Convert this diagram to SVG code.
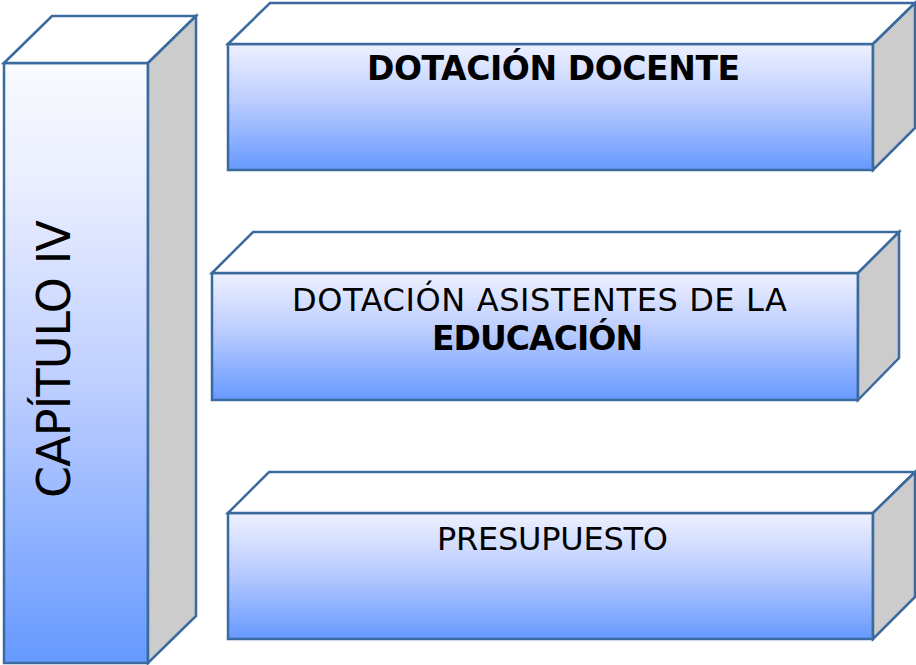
<svg xmlns="http://www.w3.org/2000/svg" width="916" height="665" viewBox="0 0 916 665">
<defs>
<linearGradient id="g" x1="0" y1="0" x2="0" y2="1">
<stop offset="0" stop-color="#eef1ff"/>
<stop offset="0.45" stop-color="#bccdff"/>
<stop offset="1" stop-color="#6699ff"/>
</linearGradient>
<linearGradient id="g2" x1="0" y1="0" x2="0" y2="1">
<stop offset="0" stop-color="#fafbff"/>
<stop offset="0.2" stop-color="#eaeeff"/>
<stop offset="0.55" stop-color="#bccdff"/>
<stop offset="1" stop-color="#6699ff"/>
</linearGradient>
<style>
.f{fill:url(#g);stroke:#3a6a9e;stroke-width:2.5;stroke-linejoin:miter}
.f2{fill:url(#g2);stroke:#3a6a9e;stroke-width:2.5}
.t{fill:#ffffff;stroke:#3a6a9e;stroke-width:2.5}
.s{fill:#cccccc;stroke:#3a6a9e;stroke-width:2.5}
text{font-family:"DejaVu Sans",Verdana,sans-serif;fill:#000000}
.b{font-weight:bold}
</style>
</defs>
<g id="capitulo">
<rect class="f2" x="4" y="63" width="144" height="600"/>
<polygon class="t" points="4,63 52,16 196,16 148,63"/>
<polygon class="s" points="148,63 196,16 196,616 148,663"/>
<text transform="translate(70,359) rotate(-90)" text-anchor="middle" font-size="46" textLength="278">CAPÍTULO IV</text>
</g>
<g id="docente">
<rect class="f" x="228" y="44" width="645" height="126"/>
<polygon class="t" points="228,44 270,3 915,3 873,44"/>
<polygon class="s" points="873,44 915,3 915,128 873,170"/>
<text class="b" x="553.5" y="80" text-anchor="middle" font-size="33" textLength="373">DOTACIÓN DOCENTE</text>
</g>
<g id="asistentes">
<rect class="f" x="212" y="273" width="646" height="127"/>
<polygon class="t" points="212,273 253,232 899,232 858,273"/>
<polygon class="s" points="858,273 899,232 899,358 858,400"/>
<text x="539.5" y="311" text-anchor="middle" font-size="32" textLength="495">DOTACIÓN ASISTENTES DE LA</text>
<text class="b" x="537.5" y="350" text-anchor="middle" font-size="33" textLength="211">EDUCACIÓN</text>
</g>
<g id="presupuesto">
<rect class="f" x="228" y="513" width="645" height="126"/>
<polygon class="t" points="228,513 269,472 915,472 873,513"/>
<polygon class="s" points="873,513 915,472 915,597 873,639"/>
<text x="552.5" y="550" text-anchor="middle" font-size="32" textLength="231">PRESUPUESTO</text>
</g>
<g id="connectors"></g>
</svg>
